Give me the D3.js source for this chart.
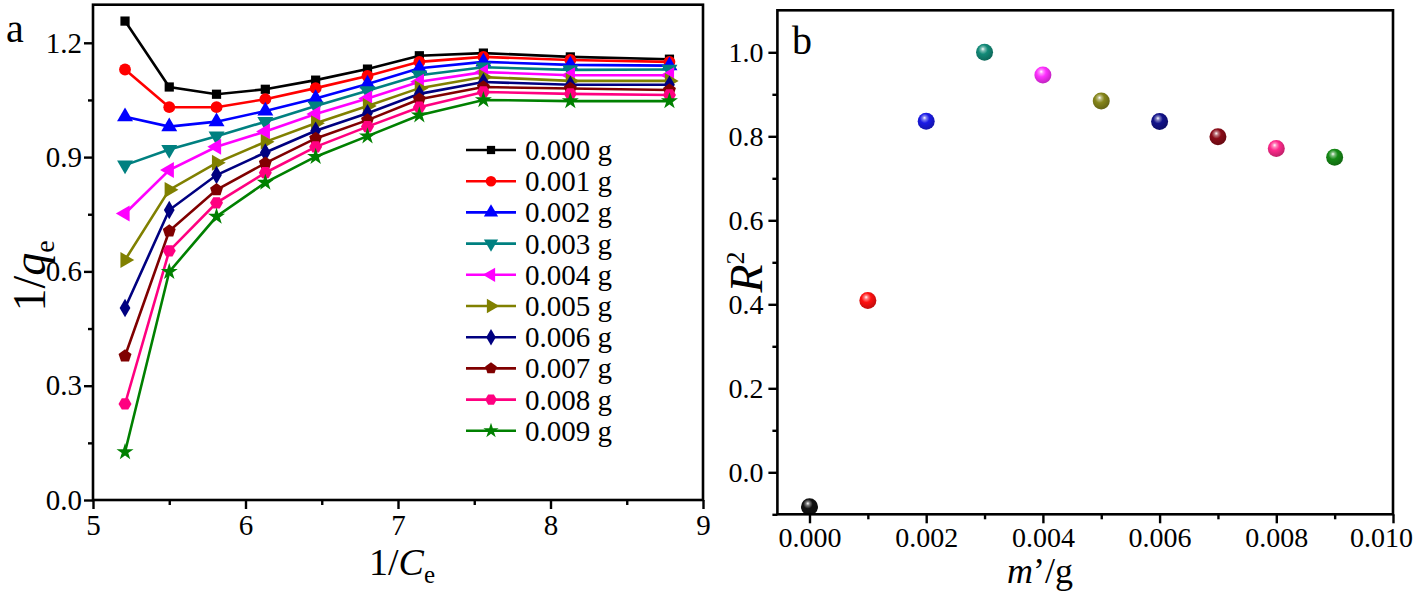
<!DOCTYPE html>
<html><head><meta charset="utf-8">
<script src="https://cdn.jsdelivr.net/npm/d3@7"></script>
<style>
body{margin:0;background:#fff;}
svg text{font-family:"Liberation Serif","Times New Roman",Times,serif;fill:#000;}
</style></head>
<body><svg id="c" width="1418" height="594"></svg>
<script>
// ---- Data ----
const invC = [5.21, 5.50, 5.81, 6.13, 6.46, 6.80, 7.14, 7.56, 8.13, 8.78];
const seriesNames = ["0.000 g","0.001 g","0.002 g","0.003 g","0.004 g","0.005 g","0.006 g","0.007 g","0.008 g","0.009 g"];
const s000 = [1.257,1.084,1.065,1.078,1.102,1.131,1.166,1.173,1.163,1.157];
const s001 = [1.130,1.031,1.031,1.052,1.081,1.113,1.150,1.163,1.155,1.150];
const s002 = [1.006,0.980,0.993,1.021,1.054,1.092,1.133,1.150,1.142,1.140];
const s003 = [0.879,0.920,0.955,0.993,1.034,1.074,1.115,1.136,1.129,1.130];
const s004 = [0.752,0.866,0.927,0.967,1.013,1.054,1.098,1.123,1.115,1.115];
const s005 = [0.630,0.814,0.885,0.940,0.989,1.034,1.081,1.110,1.100,1.100];
const s006 = [0.504,0.761,0.853,0.912,0.969,1.015,1.066,1.097,1.090,1.090];
const s007 = [0.378,0.706,0.814,0.884,0.949,0.997,1.052,1.084,1.080,1.076];
const s008 = [0.252,0.654,0.780,0.859,0.927,0.980,1.031,1.071,1.066,1.063];
const s009 = [0.126,0.599,0.744,0.833,0.901,0.955,1.010,1.050,1.047,1.047];
const seriesA = [s000,s001,s002,s003,s004,s005,s006,s007,s008,s009];
const xTicksA = [5,6,7,8,9];
const yTicksA = [0.0,0.3,0.6,0.9,1.2];

const mPrime = [0.000,0.001,0.002,0.003,0.004,0.005,0.006,0.007,0.008,0.009];
const r2 = [-0.082,0.409,0.836,1.000,0.946,0.884,0.835,0.799,0.771,0.750];
const xTicksB = [0.000,0.002,0.004,0.006,0.008,0.010];
const yTicksB = [0.0,0.2,0.4,0.6,0.8,1.0];

const lineColors = ["#000000","#ff0000","#0000ff","#008080","#ff00ff","#808000","#000080","#800000","#ff0080","#008000"];
const ballColors = ["#111111","#ff1010","#1a1ae6","#138a78","#ff30ff","#85851a","#12128a","#8a0c18","#ff2a8c","#168a16"];

const svg = d3.select("#c");
const FONT = "Liberation Serif, Times New Roman, Times, serif";

// custom symbols
const pentagon = {draw(ctx,size){const r=Math.sqrt(size/2.38);for(let i=0;i<5;i++){const a=-Math.PI/2+i*2*Math.PI/5;const x=r*Math.cos(a),y=r*Math.sin(a);i?ctx.lineTo(x,y):ctx.moveTo(x,y);}ctx.closePath();}};
const hexagon = {draw(ctx,size){const r=Math.sqrt(size/2.6);for(let i=0;i<6;i++){const a=i*Math.PI/3;const x=r*Math.cos(a),y=r*Math.sin(a);i?ctx.lineTo(x,y):ctx.moveTo(x,y);}ctx.closePath();}};
const markerDefs = [
  {t:d3.symbolSquare,s:85,r:0},{t:d3.symbolCircle,s:110,r:0},{t:d3.symbolTriangle,s:110,r:0},
  {t:d3.symbolTriangle,s:110,r:180},{t:d3.symbolTriangle,s:110,r:-90},{t:d3.symbolTriangle,s:110,r:90},
  {t:d3.symbolDiamond,s:100,r:0},{t:pentagon,s:110,r:0},{t:hexagon,s:110,r:0},{t:d3.symbolStar,s:90,r:0}
];

// ---------- Panel a ----------
const xA = d3.scaleLinear().domain([5,9]).range([93,703]);
const yA = d3.scaleLinear().domain([0,1.3]).range([500,4.7]);
const gA = svg.append("g");

const lineGen = d3.line().x((d,i)=>xA(invC[i])).y(d=>yA(d));
seriesA.forEach((s,k)=>{
  gA.append("path").attr("d",lineGen(s)).attr("fill","none").attr("stroke",lineColors[k]).attr("stroke-width",2.6);
  const m = markerDefs[k];
  gA.selectAll(null).data(s).enter().append("path")
    .attr("d",d3.symbol().type(m.t).size(m.s))
    .attr("transform",(d,i)=>`translate(${xA(invC[i])},${yA(d)}) rotate(${m.r})`)
    .attr("fill",lineColors[k]);
});

gA.append("rect").attr("x",xA(5)).attr("y",yA(1.3)).attr("width",xA(9)-xA(5)).attr("height",yA(0)-yA(1.3))
  .attr("fill","none").attr("stroke","#000").attr("stroke-width",2.6);

gA.append("g").attr("transform",`translate(0,${yA(0)})`)
  .call(d3.axisBottom(xA).tickValues(xTicksA).tickFormat(d3.format("d")).tickSize(9).tickSizeOuter(0).tickPadding(5));
gA.append("g").attr("transform",`translate(0,${yA(0)})`)
  .call(d3.axisBottom(xA).tickValues([5.5,6.5,7.5,8.5]).tickFormat("").tickSize(5).tickSizeOuter(0));
gA.append("g").attr("transform",`translate(${xA(5)},0)`)
  .call(d3.axisLeft(yA).tickValues(yTicksA).tickFormat(d3.format(".1f")).tickSize(9).tickSizeOuter(0).tickPadding(2));
gA.append("g").attr("transform",`translate(${xA(5)},0)`)
  .call(d3.axisLeft(yA).tickValues([0.15,0.45,0.75,1.05]).tickFormat("").tickSize(5).tickSizeOuter(0));
gA.selectAll(".domain").remove();
gA.selectAll(".tick line").attr("stroke","#000").attr("stroke-width",2.4);
gA.selectAll(".tick text").attr("font-family",FONT).attr("font-size",29).attr("fill","#000");

// legend
const leg = gA.append("g");
seriesNames.forEach((n,k)=>{
  const y = 150 + k*31.2;
  leg.append("line").attr("x1",466).attr("x2",516).attr("y1",y).attr("y2",y).attr("stroke",lineColors[k]).attr("stroke-width",2.6);
  const m = markerDefs[k];
  leg.append("path").attr("d",d3.symbol().type(m.t).size(m.s*0.8)).attr("transform",`translate(491,${y}) rotate(${m.r})`).attr("fill",lineColors[k]);
  leg.append("text").attr("x",525).attr("y",y+10).attr("font-size",29).text(n);
});

// titles
svg.append("text").attr("x",6).attr("y",42).attr("font-size",40).text("a");
const tA = svg.append("text").attr("transform","translate(45,276) rotate(-90)").attr("text-anchor","middle").attr("font-size",46);
tA.append("tspan").text("1/");
tA.append("tspan").attr("font-style","italic").text("q");
tA.append("tspan").attr("font-size",28).attr("dy",9).text("e");
const tA2 = svg.append("text").attr("x",402).attr("y",575).attr("text-anchor","middle").attr("font-size",38);
tA2.append("tspan").text("1/");
tA2.append("tspan").attr("font-style","italic").text("C");
tA2.append("tspan").attr("font-size",25).attr("dy",8).text("e");

// ---------- Panel b ----------
const xB = d3.scaleLinear().domain([-0.00055,0.010]).range([777.4,1393]);
const yB = d3.scaleLinear().domain([-0.1,1.1]).range([514.3,10.3]);
const gB = svg.append("g");

const defs = svg.append("defs");
ballColors.forEach((c,k)=>{
  const g = defs.append("radialGradient").attr("id","ball"+k).attr("cx","0.42").attr("cy","0.38").attr("r","0.62").attr("fx","0.4").attr("fy","0.3");
  g.append("stop").attr("offset","0").attr("stop-color","#ffffff");
  g.append("stop").attr("offset","0.18").attr("stop-color",d3.interpolateRgb(c,"#fff")(0.45));
  g.append("stop").attr("offset","0.45").attr("stop-color",c);
  g.append("stop").attr("offset","1").attr("stop-color",d3.color(c).darker(0.8));
});
gB.selectAll(null).data(r2).enter().append("circle")
  .attr("cx",(d,i)=>xB(mPrime[i])).attr("cy",d=>yB(d)).attr("r",8.5)
  .attr("fill",(d,i)=>`url(#ball${i})`);

gB.append("rect").attr("x",xB(-0.00055)).attr("y",yB(1.1)).attr("width",xB(0.010)-xB(-0.00055)).attr("height",yB(-0.1)-yB(1.1))
  .attr("fill","none").attr("stroke","#000").attr("stroke-width",2.6);

const axB = gB.append("g").attr("transform",`translate(0,${yB(-0.1)})`)
  .call(d3.axisBottom(xB).tickValues(xTicksB).tickFormat(d3.format(".3f")).tickSize(9).tickSizeOuter(0).tickPadding(4));
gB.append("g").attr("transform",`translate(0,${yB(-0.1)})`)
  .call(d3.axisBottom(xB).tickValues([0.001,0.003,0.005,0.007,0.009]).tickFormat("").tickSize(5).tickSizeOuter(0));
gB.append("g").attr("transform",`translate(${xB(-0.00055)},0)`)
  .call(d3.axisLeft(yB).tickValues(yTicksB).tickFormat(d3.format(".1f")).tickSize(9).tickSizeOuter(0).tickPadding(5));
gB.append("g").attr("transform",`translate(${xB(-0.00055)},0)`)
  .call(d3.axisLeft(yB).tickValues([-0.1,0.1,0.3,0.5,0.7,0.9]).tickFormat("").tickSize(5).tickSizeOuter(0));
gB.selectAll(".domain").remove();
gB.selectAll(".tick line").attr("stroke","#000").attr("stroke-width",2.4);
gB.selectAll(".tick text").attr("font-family",FONT).attr("font-size",28).attr("fill","#000");
axB.selectAll(".tick text").filter(d=>d===0.010).attr("dx",-12);

svg.append("text").attr("x",792).attr("y",54).attr("font-size",40).text("b");
const tB = svg.append("text").attr("transform","translate(762,272) rotate(-90)").attr("text-anchor","middle").attr("font-size",46);
tB.append("tspan").attr("font-style","italic").text("R");
tB.append("tspan").attr("font-size",26).attr("dy",-18).text("2");
const tB2 = svg.append("text").attr("x",1040).attr("y",583).attr("text-anchor","middle").attr("font-size",36);
tB2.append("tspan").attr("font-style","italic").text("m");
tB2.append("tspan").text("’/g");
</script></body></html>
